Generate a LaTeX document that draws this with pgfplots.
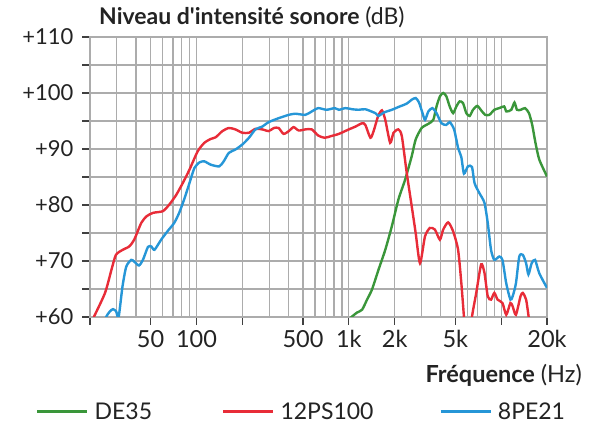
\documentclass[border=0pt]{standalone}
\usepackage{pgfplots}
\pgfplotsset{compat=1.18}
\usepackage{fontspec}
\setmainfont{Lato}
\definecolor{cgreen}{RGB}{58,150,58}
\definecolor{cred}{RGB}{232,44,56}
\definecolor{cblue}{RGB}{38,150,215}
\definecolor{cgrid}{RGB}{172,172,172}
\definecolor{ctext}{RGB}{35,35,35}
\begin{document}
\begin{tikzpicture}[x=1pt,y=1pt]
\path[use as bounding box] (0,0) rectangle (596,427);
\begin{axis}[at={(90pt,110pt)}, anchor=south west, width=457pt, height=280pt, scale only axis,
  xmode=log, xmin=20, xmax=20000, ymin=60, ymax=110,
  xtick={20,50,100,200,500,1000,2000,5000,10000,20000},
  xticklabels={,50,100,,500,1k,2k,5k,,20k},
  minor xtick={30,40,60,70,80,90,300,400,600,700,800,900,3000,4000,6000,7000,8000,9000},
  ytick={60,65,...,110},
  yticklabels={+60,,+70,,+80,,+90,,+100,,+110},
  grid=both,
  major grid style={cgrid, line width=1.3pt},
  minor grid style={cgrid, line width=1.3pt},
  axis line style={cgrid, line width=1.3pt},
  tick align=outside, xtick pos=bottom, ytick pos=left,
  major tick length=8pt, minor tick length=0pt,
  tick style={black!75, line width=1.2pt},
  xticklabel style={font=\fontsize{23.5}{27}\selectfont, text=ctext, yshift=-2pt},
  yticklabel style={font=\fontsize{22}{26}\selectfont, text=ctext, xshift=-5pt},
  /pgf/number format/assume math mode=true,
  legend columns=3,
  legend style={at={(-0.118,-0.338)}, anchor=west, draw=none, fill=none, inner sep=0pt,
    font=\fontsize{23}{27}\selectfont, text=ctext,
    /tikz/column 1/.style={column sep=4pt},
    /tikz/column 2/.style={column sep=68pt},
    /tikz/column 3/.style={column sep=4pt},
    /tikz/column 4/.style={column sep=64pt},
    /tikz/column 5/.style={column sep=4pt}},
  legend image code/.code={\draw[#1, line width=2.4pt] (0pt,0pt) -- (50pt,0pt);},
  every axis plot/.append style={line width=2.4pt, smooth, tension=0.4},
]
\addplot[cgreen] coordinates {
(950,59) (1041,60) (1133,60.8) (1222,61.3) (1317,63.1) (1419,64.9) (1569,68.5) (1735,72)
(1916,76.2) (2117,81) (2340,84.5) (2587,88.7) (2747,91.7) (3006,93.75) (3327,94.5) (3585,95.2)
(3765,97.6) (3962,99.4) (4163,100) (4368,99.4) (4594,97.6) (4838,96.4) (5080,97.6) (5341,98.5)
(5619,98.2) (5907,96.4) (6212,95.9) (6535,97) (6969,97.7) (7391,96.9) (7848,96.1) (8370,96.1)
(9018,97) (9716,97.3) (10460,97.6) (10820,96.7) (11650,97) (12230,98.3) (12700,97) (13450,97)
(14340,97.3) (15230,96.4) (15990,94.3) (16800,91.1) (17800,88.1) (20000,85.1)
};
\addlegendentry{DE35}
\addplot[cred] coordinates {
(20,58.5) (21.2,60) (25.1,64.3) (27.7,68.5) (29.6,71.1) (32.8,72.0) (36.2,72.6) (39.0,73.8)
(43.4,76.8) (47.1,78.0) (51.9,78.6) (60.2,78.9) (66.4,80.1) (73.6,81.8) (81.2,83.9) (89.9,86.3)
(101.9,89.6) (112.6,91.1) (124.2,91.8) (133.8,92.1) (148,93.2) (163,93.75) (180,93.5) (200,92.9)
(221,92.9) (244,93.6) (270,93.5) (298,93.2) (322,93.75) (346,93.75) (373,92.7) (404,93.2)
(434,93.9) (469,93.3) (518,93.5) (571,93.5) (630,92.4) (694,92.0) (765,92.3) (861,92.7)
(1000,93.5) (1105,94) (1222,94.6) (1284,94.3) (1385,92) (1455,93.2) (1554,95.8) (1650,96.9)
(1735,95.2) (1868,91.1) (1965,92.9) (2117,93.5) (2228,92.3) (2398,85.8) (2587,79.8) (2747,75)
(2933,69.6) (3163,74.4) (3410,75.9) (3675,75.6) (3962,73.8) (4163,75.6) (4487,76.9) (4838,75.3)
(5215,72) (5480,66) (5700,60) (5900,55) (6200,55) (6432,60) (6864,64.3) (7391,69.4)
(7768,67.9) (8165,63.7) (8580,63.1) (9018,64.3) (9478,63.1) (10200,62.5) (10800,60.4) (11500,62.5)
(11900,61.9) (12500,60.4) (13400,63.7) (13870,64.3) (14580,63.1) (15160,60) (15500,58)
};
\addlegendentry{12PS100}
\addplot[cblue] coordinates {
(24,58) (25.5,60) (27.0,61) (28.3,61.4) (29.7,61) (30.8,59.9) (32.7,65.5) (34.6,69.0)
(37.3,70.2) (39,69.9) (41.9,69.2) (44.5,70.2) (48,72.5) (50.5,72.6) (53,72) (58.6,73.8)
(64.5,75.3) (71.4,76.8) (77,78.6) (83,81) (89.9,83.9) (96.9,86.6) (104.5,87.6) (112.6,87.8)
(124,87.2) (141,86.9) (151,87.8) (163,89.3) (180,89.9) (200,90.8) (221,92) (244,93.5)
(270,94) (298,94.8) (346,95.5) (404,96.1) (446,96.3) (518,96.1) (571,96.7) (630,97.3)
(714,97) (808,97.3) (861,97) (951,97.3) (1051,97.1) (1162,97) (1284,97.1) (1493,96.4)
(1569,95.9) (1692,96.5) (1916,97) (2117,97.5) (2398,98.1) (2587,98.8) (2747,99.1) (2890,98.3)
(3039,96.5) (3163,95.2) (3327,96.7) (3534,97.3) (3765,96.4) (4055,94.6) (4368,94.3) (4594,94.8)
(4909,93.5) (5215,90.2) (5480,88.5) (5700,85.6) (6050,86.9) (6432,86.8) (6692,83.9) (7204,82.1)
(7768,80.4) (8165,76.8) (8580,72) (9018,70.2) (9716,70.8) (10200,70.2) (10800,66) (11500,63.1)
(11900,63.7) (12500,66) (13150,70.8) (13870,71.1) (14580,69.6) (15100,67.6) (15860,69.6) (16700,70.2)
(17800,67.8) (20000,65.2)
};
\addlegendentry{8PE21}
\end{axis}
\node[anchor=base west, inner sep=0pt, font=\fontsize{23}{27}\selectfont, text=ctext] at (99,402) {\textbf{Niveau d\textquotesingle intensité sonore} (dB)};
\node[anchor=base east, inner sep=0pt, font=\fontsize{23.5}{27}\selectfont, text=ctext] at (582,44) {\textbf{Fréquence} (Hz)};
\end{tikzpicture}
\end{document}
